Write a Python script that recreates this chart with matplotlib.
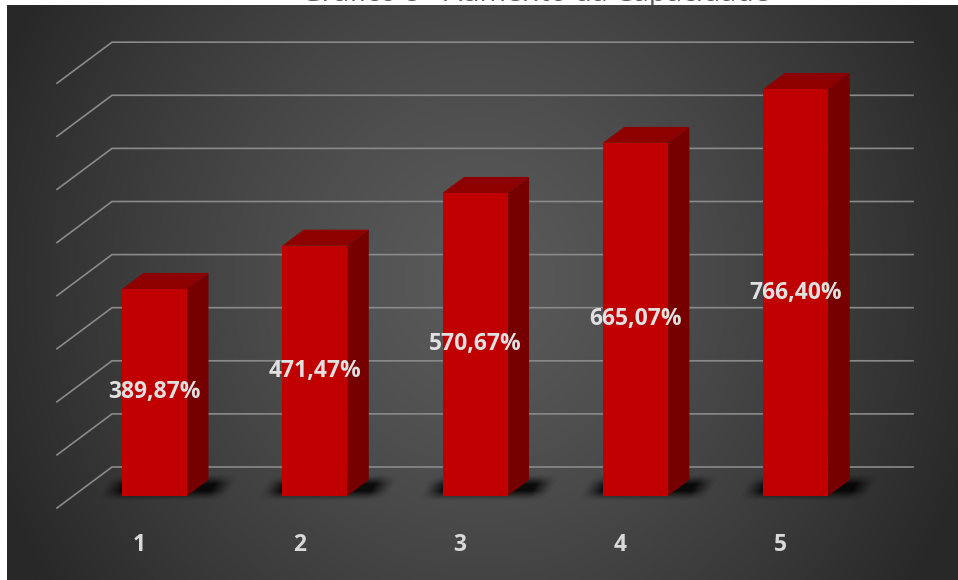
import numpy as np
import matplotlib
matplotlib.use("Agg")
import matplotlib.pyplot as plt
from matplotlib.patches import Polygon

# ---- data ----
categories = ["1", "2", "3", "4", "5"]
values = [389.87, 471.47, 570.67, 665.07, 766.40]
value_labels = ["389,87%", "471,47%", "570,67%", "665,07%", "766,40%"]
grid_values = [0, 100, 200, 300, 400, 500, 600, 700, 800]
title = "Gráfico 8 - Aumento da Capacidade"

W, H = 958, 580
fig = plt.figure(figsize=(W / 100, H / 100), dpi=100)
ax = fig.add_axes([0, 0, 1, 1])
ax.set_axis_off()

PX_CAT = 160.3
V_PER_PX = 1.8832
X_FIRST_PX = 154.5
BASE_PX = 496.0

def xd(px):
    return (px - X_FIRST_PX) / PX_CAT + 1

def yd(py):
    return (BASE_PX - py) * V_PER_PX

# ---- title (mostly hidden above the panel, as in the reference) ----
ax.text(xd(535), yd(1.0), title, ha="center", va="baseline", fontsize=20.5,
        color="#595959", family="Open Sans", zorder=0)

# ---- background panel gradient ----
px0, py0 = 7, 6
xs = np.linspace(px0, W, 400)
ys = np.linspace(py0, H, 250)
X, Y = np.meshgrid(xs, ys)
d = np.sqrt(((X - 480) / 520) ** 2 + ((Y - 280) / 560) ** 2)
d = np.clip(d, 0, 1) ** 1.3
c_center = np.array([0x5a, 0x5a, 0x5a]) / 255
c_edge = np.array([0x28, 0x28, 0x28]) / 255
img = c_center[None, None, :] * (1 - d[..., None]) + c_edge[None, None, :] * d[..., None]
ax.imshow(img, extent=(xd(px0), xd(W), yd(H), yd(py0)), origin="upper",
          aspect="auto", zorder=1, interpolation="bilinear")

# ---- gridlines (back wall + floor diagonal) ----
WALL_DY = 29 * V_PER_PX
DIAG_DY = 41 * V_PER_PX
wall_l, wall_r, diag_x = xd(112), xd(913), xd(57)
for g in grid_values:
    yb = g + WALL_DY
    ax.plot([diag_x, wall_l, wall_r], [yb - DIAG_DY, yb, yb],
            color="#8a8a8a", lw=1.2, solid_joinstyle="miter", zorder=2)

# ---- bars ----
HALF = 32.5 / PX_CAT
DX = 21.5 / PX_CAT
DY = 16 * V_PER_PX
front_c, top_c, side_c = "#c00000", "#8e0000", "#760000"

# soft shadow blob (image), in pixel units relative to bar front-left-bottom
sx = np.linspace(-40, 140, 180)
sy = np.linspace(-30, 12, 42)   # pixel offsets (negative = up/back)
SX, SY = np.meshgrid(sx, sy)
u = SX + SY * 0.6
inside_x = np.clip(np.minimum(u + 24, 106 - u) / 20, 0, 1)
inside_y = np.clip(np.minimum(SY + 22, 5 - SY) / 10, 0, 1)
alpha_blob = 0.85 * (inside_x * inside_y) ** 1.3
shadow_rgba = np.zeros(SX.shape + (4,))
shadow_rgba[..., 3] = alpha_blob

for i, v in enumerate(values):
    c = i + 1
    l, r = c - HALF, c + HALF
    ax.imshow(shadow_rgba, origin="upper", aspect="auto", zorder=3,
              interpolation="bilinear",
              extent=(l + sx[0] / PX_CAT, l + sx[-1] / PX_CAT,
                      -sy[-1] * V_PER_PX, -sy[0] * V_PER_PX))
    ax.add_patch(Polygon([(r, 0), (r + DX, DY), (r + DX, v + DY), (r, v)],
                         closed=True, facecolor=side_c, edgecolor="none", zorder=4))
    ax.add_patch(Polygon([(l, v), (r, v), (r + DX, v + DY), (l + DX, v + DY)],
                         closed=True, facecolor=top_c, edgecolor="none", zorder=4))
    ax.add_patch(Polygon([(l, 0), (r, 0), (r, v), (l, v)],
                         closed=True, facecolor=front_c, edgecolor="none", zorder=5))
    ax.text(c, v / 2, value_labels[i], ha="center", va="center", fontsize=16.5,
            fontweight="bold", color="#e0e0e0", family="Open Sans", zorder=6)
    ax.text(c - 15 / PX_CAT, yd(545), categories[i], ha="center", va="center",
            fontsize=16.5, fontweight="bold", color="#d9d9d9", family="Open Sans", zorder=6)

ax.set_xlim(xd(0), xd(W))
ax.set_ylim(yd(H), yd(0))
fig.savefig("out.png", dpi=100, facecolor="white")
